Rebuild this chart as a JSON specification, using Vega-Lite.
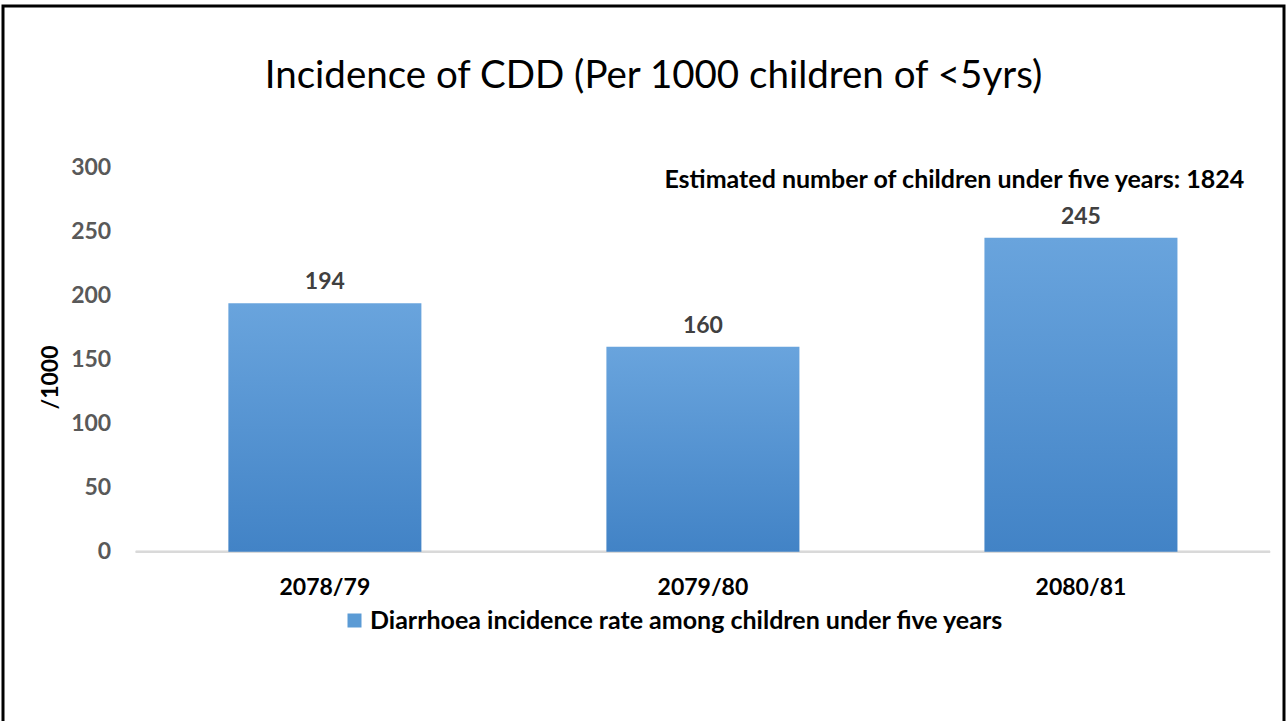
{
  "$schema": "https://vega.github.io/schema/vega-lite/v6.json",
  "autosize": "none",
  "width": 1281,
  "height": 730,
  "padding": {"left": 3, "top": 6, "right": 2, "bottom": 0},
  "background": "#ffffff",
  "title": {
    "text": "Incidence of CDD (Per 1000 children of <5yrs)",
    "font": "Lato",
    "fontSize": 38.5,
    "fontWeight": "normal",
    "color": "#000000",
    "anchor": "middle",
    "frame": "group",
    "offset": -90,
    "dx": 10
  },
  "data": {
    "values": [
      {"year": "2078/79", "rate": 194},
      {"year": "2079/80", "rate": 160},
      {"year": "2080/81", "rate": 245}
    ]
  },
  "layer": [
    {
      "mark": {"type": "rule", "color": "#D9D9D9", "strokeWidth": 2},
      "encoding": {
        "y": {"datum": 0, "type": "quantitative"},
        "x": {"datum": "2078/79", "type": "nominal", "bandPosition": -0.48},
        "x2": {"datum": "2080/81", "bandPosition": 1.48}
      }
    },
    {
      "mark": {
        "type": "bar",
        "color": {
          "gradient": "linear",
          "x1": 0, "y1": 0, "x2": 0, "y2": 1,
          "stops": [
            {"offset": 0, "color": "#69A4DD"},
            {"offset": 1, "color": "#4283C6"}
          ]
        }
      },
      "encoding": {
        "x": {
          "field": "year",
          "type": "nominal",
          "scale": {"paddingInner": 0.4894, "paddingOuter": 0.439, "align": 0.679},
          "axis": {
            "title": null,
            "orient": "bottom",
            "offset": -184.3,
            "bandPosition": 0.5,
            "labelAngle": 0,
            "labelAlign": "center",
            "labelBaseline": "middle",
            "labelPadding": 36,
            "ticks": false,
            "domain": false,
            "grid": false,
            "labelFont": "Lato",
            "labelFontSize": 23,
            "labelFontWeight": "bold",
            "labelColor": "#000000"
          }
        },
        "y": {
          "field": "rate",
          "type": "quantitative",
          "scale": {"domain": [-143.8, 425.9], "nice": false, "zero": false},
          "axis": {
            "values": [0, 50, 100, 150, 200, 250, 300],
            "grid": false,
            "domain": false,
            "ticks": false,
            "offset": -115.7,
            "labelPadding": 8,
            "labelFont": "Lato",
            "labelFontSize": 23,
            "labelFontWeight": "bold",
            "labelColor": "#595959",
            "title": "/1000",
            "titleX": -68.7,
            "titleY": 371,
            "titleAngle": 270,
            "titleAlign": "center",
            "titleBaseline": "middle",
            "titleFont": "Lato",
            "titleFontSize": 23,
            "titleFontWeight": "bold",
            "titleColor": "#000000"
          }
        },
        "y2": {"datum": 0}
      }
    },
    {
      "mark": {
        "type": "text",
        "font": "Lato",
        "fontSize": 23,
        "fontWeight": "bold",
        "color": "#404040",
        "baseline": "middle",
        "dy": -21
      },
      "encoding": {
        "x": {"field": "year", "type": "nominal"},
        "y": {"field": "rate", "type": "quantitative"},
        "text": {"field": "rate", "type": "quantitative"}
      }
    },
    {
      "data": {"values": [{"note": "Estimated number of children under five years: 1824"}]},
      "mark": {
        "type": "text",
        "font": "Lato",
        "fontSize": 25,
        "fontWeight": "bold",
        "color": "#000000",
        "baseline": "middle",
        "align": "center",
        "dx": -126.6
      },
      "encoding": {
        "x": {"datum": "2080/81", "type": "nominal"},
        "y": {"datum": 290.3, "type": "quantitative"},
        "text": {"field": "note", "type": "nominal"}
      }
    },
    {
      "transform": [{"filter": "false"}],
      "mark": {"type": "bar"},
      "encoding": {
        "color": {
          "datum": "Diarrhoea incidence rate among children under five years",
          "type": "nominal",
          "scale": {"range": ["#5B9BD5"]},
          "legend": {
            "title": null,
            "orient": "none",
            "legendX": 339,
            "legendY": 602,
            "padding": 0,
            "symbolType": "square",
            "symbolSize": 196,
            "symbolStrokeWidth": 0,
            "labelFont": "Lato",
            "labelFontSize": 25,
            "labelFontWeight": "bold",
            "labelColor": "#000000",
            "labelOffset": 3,
            "labelLimit": 1000
          }
        }
      }
    }
  ],
  "config": {
    "view": {"stroke": "#000000", "strokeWidth": 3}
  }
}
